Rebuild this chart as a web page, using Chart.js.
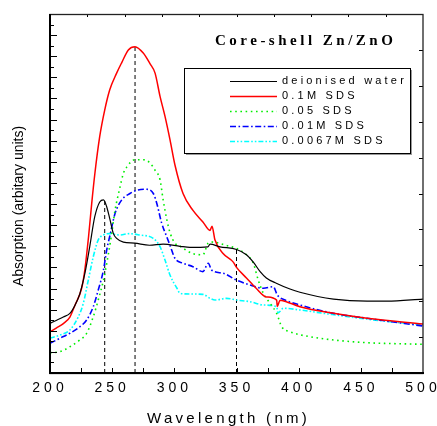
<!DOCTYPE html>
<html><head><meta charset="utf-8">
<script src="https://cdn.jsdelivr.net/npm/chart.js@4/dist/chart.umd.min.js"></script>
<style>html,body{margin:0;padding:0;background:#fff}</style>
</head><body>
<canvas id="c" width="437" height="426"></canvas>
<script>
// ---- data (wavelength nm, absorption arbitrary units) ----
const waterX=[200,205.4,210.7,216,220,224,228,232,236,240,243,245.6,248.3,251,253.6,259,268,280,291,304.6,312.6,327,328.7,336.7,350,358,363.5,369,374,382,393,401,428,455,471,500];
const waterY=[4.7,5.0,5.3,5.65,6.4,7.5,9.4,12.0,14.8,16.2,16.4,15.75,14.5,13.2,12.75,12.4,12.3,12.1,12.2,12.0,11.9,11.95,12.2,11.95,11.7,11.2,10.5,9.6,9.0,8.5,7.95,7.65,7.0,6.8,6.8,7.0];
const sds01X=[200,205,211,216,220,225.5,228,231,233.5,236,240,244,248,253.6,257.7,263,268.4,275,280.4,284.5,288.5,292.5,296.5,300.5,307,315,323,328.7,330.3,332.7,339.4,347.4,350,358,366,374,382.3,382.8,385,390,401,428,455,500];
const sds01Y=[3.9,4.26,4.7,5.3,6.4,8.05,9.75,12.9,16.0,18.8,22.4,24.9,26.8,28.4,29.4,30.6,30.9,30.3,29.3,28.4,26.2,24.3,22.1,19.7,17.0,15.4,14.3,13.5,13.9,12.6,11.3,10.5,10.0,9.0,8.0,7.2,6.9,6.3,6.9,6.75,6.28,5.65,5.18,4.64];
const sds005X=[200,208,216,224,229.5,234.8,238.8,243,247,249.6,252.3,256.3,259,261.7,268.4,275,280.4,284.5,288.5,291,294,296.5,300.5,304.6,315,323,327.3,331.3,341,350,358,363.5,367.5,371.6,377,382.3,386.4,393,409,428,455,500];
const sds005Y=[1.92,2.02,2.49,3.13,3.76,5.33,6.91,8.8,11.3,13.2,15.4,17.6,18.9,19.5,20.2,20.2,19.9,19.2,18.3,16.4,14.5,13.3,12.3,12.0,11.3,11.2,12.3,12.4,12.1,11.8,11.2,10.4,8.8,7.55,6.6,5.65,4.38,3.91,3.44,3.13,2.87,2.72];
const sds001X=[200,208,216,224,229.5,234.8,238.8,243,245.6,248.3,252.3,257.7,264.3,269.7,277.8,283.1,285.8,289.8,293.9,296.5,300.5,307,315,323,327.3,330,339.4,350,361,371.6,379.6,382.8,389,401,428,455,500];
const sds001Y=[2.81,3.29,3.76,4.38,5.02,6.28,7.86,9.75,11.65,13.07,15.1,16.4,17.0,17.3,17.4,17.0,16.1,14.2,12.9,12.1,10.86,10.4,10.07,9.6,10.4,9.75,9.44,8.8,8.33,8.02,8.17,7.39,6.91,6.44,5.65,5.18,4.45];
const sds00067X=[200,208,216,222.8,226.8,230.8,234.8,238.8,243,248,256,264,272,283,288.5,292.5,296.5,302,304.6,312.6,323,328.7,332.7,342,350,361,371.6,382.3,383.4,387.6,401,420,455,500];
const sds00067Y=[3.29,3.6,4.07,5.33,6.6,8.8,11.0,12.6,13.07,13.2,13.07,13.2,13.07,12.75,11.96,10.7,9.28,8.05,7.55,7.48,7.45,7.07,6.91,7.07,6.91,6.75,6.44,6.28,5.68,6.13,5.97,5.65,5.1,4.55];
const dropX=[244,268.4,350];
const dropTop=[16.4,30.9,11.7];
const seriesLabels=['deionised water','0.1M SDS','0.05 SDS','0.01M SDS','0.0067M SDS'];
const xTickValues=[200,250,300,350,400,450,500];
const titleText='Core-shell Zn/ZnO';
const xTitle='Wavelength (nm)';
const yTitle='Absorption (arbitary units)';

const mk=(xs,ys)=>xs.map((x,i)=>({x:x,y:ys[i]}));
const styles=[
  {borderColor:'#000000',borderWidth:1.2},
  {borderColor:'#ff0000',borderWidth:1.5},
  {borderColor:'#00ee00',borderWidth:1.6,borderDash:[1.6,3.6]},
  {borderColor:'#0000ff',borderWidth:1.6,borderDash:[6,2.5,1.6,2.5]},
  {borderColor:'#00ffff',borderWidth:1.6,borderDash:[5,2,1.6,2,1.6,2]}
];
const sets=[[waterX,waterY],[sds01X,sds01Y],[sds005X,sds005Y],[sds001X,sds001Y],[sds00067X,sds00067Y]];
const datasets=sets.map((s,i)=>Object.assign({label:seriesLabels[i],data:mk(s[0],s[1]),fill:false,cubicInterpolationMode:'monotone'},styles[i]));
dropX.forEach((x,i)=>datasets.push({label:'drop'+i,data:[{x:x,y:0},{x:x,y:dropTop[i]}],borderColor:'#000',borderWidth:1,borderDash:[4,3],tension:0}));

const deco={
  id:'deco',
  beforeDraw(ch){ ch.ctx.letterSpacing='4px'; },
  afterDraw(ch){
    const c=ch.ctx,a=ch.chartArea,xs=ch.scales.x,ys=ch.scales.y;
    c.save();
    c.letterSpacing='0px';
    c.setLineDash([]);
    c.strokeStyle='#000';
    c.lineWidth=1;
    c.beginPath();
    for(let v=225;v<500;v+=25){const p=Math.round(xs.getPixelForValue(v))+0.5;c.moveTo(p,a.bottom);c.lineTo(p,a.bottom-5);}
    for(let v=230;v<500;v+=30){const p=Math.round(xs.getPixelForValue(v))+0.5;c.moveTo(p,a.top);c.lineTo(p,a.top+3);}
    for(let v=1;v<34;v++){const p=Math.round(ys.getPixelForValue(v))+0.5;c.moveTo(a.left,p);c.lineTo(a.left+(v%2===0?7:4),p);}
    for(let k=1;k<10;k++){const p=Math.round(ys.getPixelForValue(k*3.4))+0.5;c.moveTo(a.right,p);c.lineTo(a.right-4,p);}
    c.stroke();
    // frame
    c.lineWidth=1.3;
    c.strokeStyle='#222';
    c.strokeRect(a.left,a.top+0.5,a.right-a.left,a.bottom-a.top);
    c.lineWidth=2;
    c.strokeStyle='#000';
    c.beginPath();c.moveTo(a.left,a.top);c.lineTo(a.left,a.bottom);c.lineTo(a.right+1,a.bottom);c.stroke();
    // title
    c.fillStyle='#000';
    c.font='bold 15px "Liberation Serif", "Times New Roman", serif';
    c.letterSpacing='3.5px';
    c.textAlign='left';c.textBaseline='alphabetic';
    c.fillText(titleText,215,45);
    // x title
    c.font='15px "Liberation Sans", Arial, sans-serif';
    c.letterSpacing='3.3px';
    c.fillText(xTitle,147,423);
    // y title
    c.letterSpacing='0px';
    c.font='14px "Liberation Sans", Arial, sans-serif';
    c.save();c.translate(23,206);c.rotate(-Math.PI/2);c.textAlign='center';c.textBaseline='alphabetic';c.fillText(yTitle,0,0);c.restore();
    // legend
    const bx=184,by=68,bw=226,bh=85;
    c.fillStyle='#999';c.fillRect(bx+2,by+2,bw,bh);
    c.fillStyle='#fff';c.fillRect(bx,by,bw,bh);
    c.lineWidth=1;c.strokeStyle='#000';c.strokeRect(bx+0.5,by+0.5,bw,bh);
    const rows=[81,96,111,126,141];
    c.font='11px "Liberation Sans", Arial, sans-serif';
    c.letterSpacing='3.2px';
    c.textBaseline='middle';
    for(let i=0;i<5;i++){
      const ds=ch.data.datasets[i];
      c.save();
      c.strokeStyle=ds.borderColor;c.lineWidth=ds.borderWidth;c.setLineDash(ds.borderDash||[]);
      c.beginPath();c.moveTo(230,rows[i]+0.5);c.lineTo(277,rows[i]+0.5);c.stroke();
      c.restore();
      c.fillStyle='#000';
      c.fillText(ds.label,282,rows[i]);
    }
    c.restore();
  }
};

new Chart(document.getElementById('c'),{
  type:'line',
  data:{datasets:datasets},
  options:{
    responsive:false,animation:false,devicePixelRatio:1,
    layout:{padding:{left:50,right:14,top:14,bottom:0}},
    plugins:{legend:{display:false},tooltip:{enabled:false}},
    elements:{point:{radius:0}},
    scales:{
      x:{type:'linear',min:200,max:500,
        afterBuildTicks(s){s.ticks=xTickValues.map(v=>({value:v}));},
        ticks:{font:{family:'"Liberation Sans", Arial, sans-serif',size:14},color:'#000',padding:7,maxRotation:0,autoSkip:false,callback:v=>String(v)},
        grid:{display:false,drawTicks:false},border:{display:false},
        afterFit(s){s.height=53;s.paddingLeft=0;s.paddingRight=0;}},
      y:{type:'linear',min:0,max:34,display:false}
    }
  },
  plugins:[deco]
});
</script>
</body></html>
